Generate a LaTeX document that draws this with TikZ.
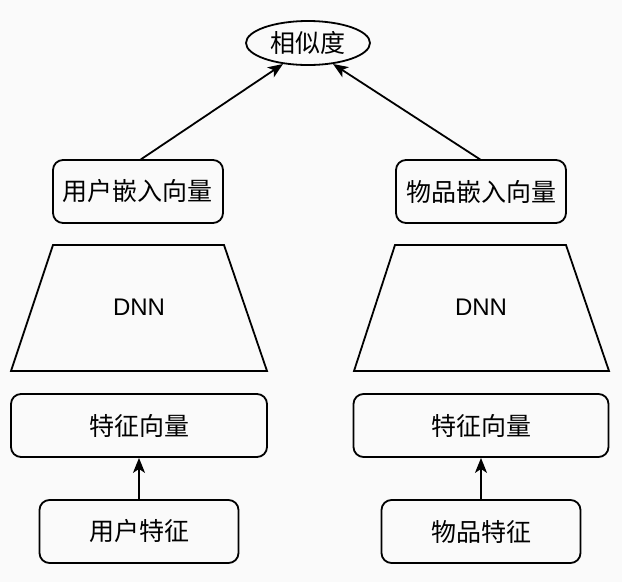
\documentclass[tikz,border=0pt]{standalone}
\usepackage{fontspec}
\setmainfont{Noto Sans CJK SC}
\newfontfamily\latinsans{Liberation Sans}
\usetikzlibrary{arrows.meta,shapes.geometric}
\begin{document}
\begin{tikzpicture}[x=1pt,y=-1pt,
  every node/.style={font=\fontsize{25}{30}\selectfont},
  box/.style={draw,line width=1.8pt,rounded corners=10pt,inner sep=0pt},
  trap/.style={draw,line width=1.8pt},
  dnn/.style={font=\latinsans\fontsize{24}{28}\selectfont},
  arr/.style={line width=1.8pt,-{Stealth[length=15pt,width=12pt,inset=4pt]}}]
\fill[fill={rgb,255:red,250;green,250;blue,250}] (0,0) rectangle (622,582);
\useasboundingbox (0,0) rectangle (622,582);
% similarity
\node[draw,ellipse,line width=1.8pt,minimum width=124pt,minimum height=44pt,inner sep=0pt] (sim) at (308,43) {相似度};
% embeddings
\node[box,minimum width=170pt,minimum height=63pt] (ue) at (138,191.5) {用户嵌入向量};
\node[box,minimum width=170pt,minimum height=63pt] (ie) at (481,191.5) {物品嵌入向量};
% DNN trapezoids
\draw[trap] (53,245) -- (224,245) -- (267,371) -- (11,371) -- cycle;
\node[dnn] (udnn) at (139,307) {DNN};
\draw[trap] (395,245) -- (566,245) -- (609,371) -- (354,371) -- cycle;
\node[dnn] (idnn) at (481,307) {DNN};
% feature vectors
\node[box,minimum width=256pt,minimum height=63pt] (uf) at (139,425.5) {特征向量};
\node[box,minimum width=255pt,minimum height=63pt] (if) at (481,425.5) {特征向量};
% raw features
\node[box,minimum width=199pt,minimum height=63pt] (ur) at (139,531.5) {用户特征};
\node[box,minimum width=199pt,minimum height=63pt] (ir) at (481,531.5) {物品特征};
% arrows
\draw[arr] (ur.north) -- (uf.south);
\draw[arr] (ir.north) -- (if.south);
\draw[arr] (140,160) -- (sim.220);
\draw[arr] (481,160) -- (sim.-40);
\end{tikzpicture}
\end{document}
